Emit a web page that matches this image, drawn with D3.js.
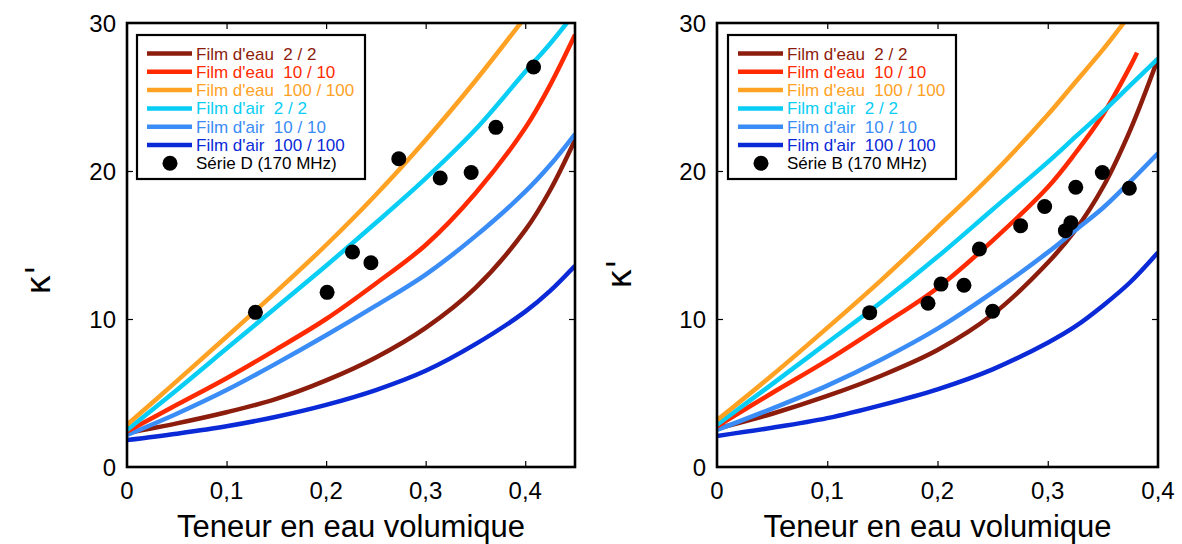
<!DOCTYPE html>
<html><head><meta charset="utf-8">
<script src="https://cdn.jsdelivr.net/npm/d3@7"></script>
<style>
html,body{margin:0;padding:0;background:#fff;}
svg text{font-family:"Liberation Sans",Arial,sans-serif;white-space:pre;}
</style></head>
<body><svg id="chart" width="1182" height="544"></svg>
<script>
// ---------- data ----------
const seriesNames = ["Film d'eau  2 / 2","Film d'eau  10 / 10","Film d'eau  100 / 100","Film d'air  2 / 2","Film d'air  10 / 10","Film d'air  100 / 100"];
const seriesColors = ["#8c1c0c","#ff2a00","#ffa224","#08cdf4","#3a8cf6","#0a2ad8"];
const xTickValues = [0,0.1,0.2,0.3,0.4];
const xTickLabels = ["0","0,1","0,2","0,3","0,4"];
const yTickValues = [0,10,20,30];
const yTickLabels = ["0","10","20","30"];

// Left panel (Série D)
const leftX = [0,0.05,0.1,0.15,0.2,0.25,0.3,0.35,0.4,0.425,0.45];
const leftEau2   = [2.3,2.95,3.7,4.6,5.85,7.4,9.4,12.1,16.0,18.7,22.1];
const leftEau10  = [2.4,4.2,6.0,7.95,10.0,12.4,15.0,18.5,22.9,25.8,29.2];
const leftEau100 = [2.85,5.8,8.8,11.85,15.0,18.4,22.1,26.1,30.4,32.6,34.9];
const leftAir2   = [2.5,5.2,8.0,10.8,13.6,16.5,19.5,22.8,26.7,28.6,30.7];
const leftAir10  = [2.16,3.6,5.2,7.0,8.9,10.9,13.0,15.6,18.6,20.4,22.5];
const leftAir100 = [1.82,2.25,2.75,3.4,4.2,5.2,6.5,8.3,10.5,11.9,13.6];
const serieDx = [0.129,0.201,0.2265,0.245,0.273,0.3146,0.3457,0.3705,0.4084];
const serieDy = [10.45,11.8,14.53,13.8,20.83,19.53,19.9,22.95,27.03];

// Right panel (Série B)
const rightX = [0,0.05,0.1,0.15,0.2,0.25,0.3,0.325,0.35,0.375,0.4];
const rightXEau10 = [0,0.05,0.1,0.15,0.2,0.25,0.3,0.325,0.35,0.375,0.381];
const rightEau2   = [2.6,3.6,4.8,6.2,7.9,10.3,13.8,16.0,18.9,22.8,27.6];
const rightEau10  = [2.75,5.0,7.2,9.6,12.1,15.3,18.9,21.2,23.8,27.1,28.0];
const rightEau100 = [3.16,6.2,9.4,12.7,16.2,19.8,23.8,26.0,28.2,30.6,33.0];
const rightAir2   = [2.86,5.6,8.4,11.2,14.2,17.4,20.6,22.3,24.0,25.8,27.6];
const rightAir10  = [2.5,3.95,5.5,7.3,9.35,11.8,14.5,16.0,17.5,19.3,21.2];
const rightAir100 = [2.1,2.65,3.3,4.2,5.25,6.6,8.4,9.5,10.9,12.5,14.5];
const serieBx = [0.1385,0.1914,0.2032,0.224,0.238,0.250,0.2754,0.2972,0.316,0.321,0.3254,0.3495,0.374];
const serieBy = [10.43,11.06,12.36,12.28,14.73,10.52,16.3,17.6,15.97,16.5,18.9,19.9,18.83];

// ---------- drawing ----------
const svg = d3.select("#chart");

const panels = [
  {id:"L", left:127, right:575, xMax:0.45,
   curves:[[leftX,leftEau2],[leftX,leftEau10],[leftX,leftEau100],[leftX,leftAir2],[leftX,leftAir10],[leftX,leftAir100]],
   px:serieDx, py:serieDy, pointLabel:"Série D (170 MHz)", legendX:137, ylabX:50, ylabY:280},
  {id:"R", left:717, right:1158, xMax:0.4,
   curves:[[rightX,rightEau2],[rightXEau10,rightEau10],[rightX,rightEau100],[rightX,rightAir2],[rightX,rightAir10],[rightX,rightAir100]],
   px:serieBx, py:serieBy, pointLabel:"Série B (170 MHz)", legendX:728, ylabX:631, ylabY:274}
];
const plotTop = 23, plotBottom = 467;

panels.forEach(p => {
  const x = d3.scaleLinear().domain([0,p.xMax]).range([p.left,p.right]);
  const y = d3.scaleLinear().domain([0,30]).range([plotBottom,plotTop]);
  const g = svg.append("g");

  g.append("clipPath").attr("id","clip"+p.id).append("rect")
    .attr("x",p.left).attr("y",plotTop).attr("width",p.right-p.left).attr("height",plotBottom-plotTop);

  const line = d3.line().x(d=>x(d[0])).y(d=>y(d[1])).curve(d3.curveCatmullRom.alpha(0.5));
  const cg = g.append("g").attr("clip-path","url(#clip"+p.id+")");
  [5,0,4,1,3,2].forEach(i => {
    const [xs,ys] = p.curves[i];
    cg.append("path").datum(xs.map((v,k)=>[v,ys[k]]))
      .attr("d",line).attr("fill","none").attr("stroke",seriesColors[i])
      .attr("stroke-width",4.5).attr("stroke-linecap","butt");
  });

  g.selectAll("circle.pt").data(p.px.map((v,k)=>[v,p.py[k]])).enter().append("circle")
    .attr("class","pt").attr("cx",d=>x(d[0])).attr("cy",d=>y(d[1])).attr("r",7.5).attr("fill","#000");

  const xt = xTickValues.filter(v=>v>0 && v<p.xMax);
  const yt = yTickValues.filter(v=>v>0 && v<30);
  const axB = d3.axisBottom(x).tickValues(xt).tickSize(-6).tickFormat("");
  const axT = d3.axisTop(x).tickValues(xt).tickSize(-6).tickFormat("");
  const axL = d3.axisLeft(y).tickValues(yt).tickSize(-6).tickFormat("");
  const axR = d3.axisRight(y).tickValues(yt).tickSize(-6).tickFormat("");
  [[axB,`translate(0,${plotBottom})`],[axT,`translate(0,${plotTop})`],[axL,`translate(${p.left},0)`],[axR,`translate(${p.right},0)`]]
    .forEach(([ax,tr]) => {
      const a = g.append("g").attr("transform",tr).call(ax);
      a.select(".domain").remove();
      a.selectAll(".tick line").attr("stroke","#000").attr("stroke-width",1.2);
    });
  g.append("rect").attr("x",p.left).attr("y",plotTop).attr("width",p.right-p.left).attr("height",plotBottom-plotTop)
    .attr("fill","none").attr("stroke","#000").attr("stroke-width",2.6);

  xTickValues.forEach((v,k) => {
    g.append("text").attr("x",x(v)).attr("y",499).attr("text-anchor","middle")
      .attr("font-size",24).attr("fill","#000").text(xTickLabels[k]);
  });
  yTickValues.forEach((v,k) => {
    g.append("text").attr("x",p.left-11).attr("y",y(v)+8.5).attr("text-anchor","end")
      .attr("font-size",24).attr("fill","#000").text(yTickLabels[k]);
  });

  g.append("text").attr("x",(p.left+p.right)/2).attr("y",537).attr("text-anchor","middle")
    .attr("font-size",31).attr("fill","#000").text("Teneur en eau volumique");
  g.append("text").attr("transform",`translate(${p.ylabX},${p.ylabY}) rotate(-90)`)
    .attr("text-anchor","middle").attr("font-size",34).attr("fill","#000")
    .style("font-family","'DejaVu Sans',sans-serif").text("κ'");

  const lx = p.legendX, ly = 35;
  g.append("rect").attr("x",lx).attr("y",ly).attr("width",228).attr("height",144)
    .attr("fill","#fff").attr("stroke","#000").attr("stroke-width",2.2);
  seriesNames.forEach((name,i) => {
    const yy = 53.5 + i*18.3;
    g.append("line").attr("x1",lx+10).attr("x2",lx+55).attr("y1",yy).attr("y2",yy)
      .attr("stroke",seriesColors[i]).attr("stroke-width",4.5);
    g.append("text").attr("x",lx+59).attr("y",yy+6).attr("font-size",17)
      .attr("fill",seriesColors[i]).text(name);
  });
  const my = 53.5 + 6*18.3;
  g.append("circle").attr("cx",lx+33).attr("cy",my).attr("r",7.5).attr("fill","#000");
  g.append("text").attr("x",lx+59).attr("y",my+6).attr("font-size",17).attr("fill","#000").text(p.pointLabel);
});
</script></body></html>
